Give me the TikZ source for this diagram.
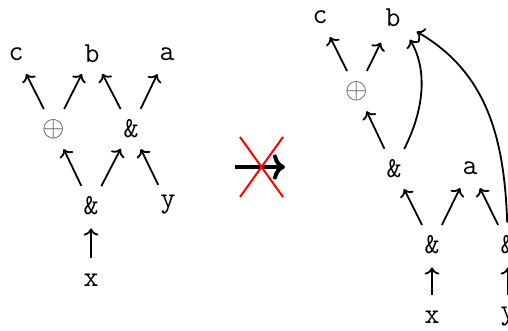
\documentclass[tikz,border=0pt]{standalone}
\usetikzlibrary{arrows.meta}
\begin{document}
\begin{tikzpicture}[x=0.5pt,y=0.5pt,
  lbl/.style={circle, inner sep=0pt, minimum size=22pt, font=\fontsize{14.5}{17}\selectfont\ttfamily},
  opl/.style={lbl, text=black!70},
  arr/.style={->, line width=0.9pt},
  bigarr/.style={->, line width=2pt},
  cross/.style={red, line width=1pt},
]
\useasboundingbox (0,0) rectangle (508,-331);
\clip (0,0) rectangle (508,-331);
% left diagram
\node[lbl] (Lc) at (16,-54) {c};
\node[lbl] (Lb) at (92,-54) {b};
\node[lbl] (La) at (167,-54) {a};
\node[opl] (Lo) at (54,-129) {$\oplus$};
\node[lbl] (Land1) at (131,-129) {\&};
\node[lbl] (Land2) at (91,-206) {\&};
\node[lbl] (Ly) at (168,-205) {y};
\node[lbl] (Lx) at (91,-280) {x};
\draw[arr] (Lo) -- (Lc);
\draw[arr] (Lo) -- (Lb);
\draw[arr] (Land1) -- (Lb);
\draw[arr] (Land1) -- (La);
\draw[arr] (Land2) -- (Lo);
\draw[arr] (Land2) -- (Land1);
\draw[arr] (Ly) -- (Land1);
\draw[arr] (Lx) -- (Land2);
% middle crossed arrow
\coordinate (m1) at (235,-167);
\coordinate (m2) at (285,-167);
\draw[bigarr] (m1) -- (m2);
\coordinate (r1) at (240,-137);
\coordinate (r2) at (283,-197);
\coordinate (r3) at (283,-137);
\coordinate (r4) at (240,-197);
\draw[cross] (r1) -- (r2);
\draw[cross] (r3) -- (r4);
% right diagram
\node[lbl] (Rc) at (320,-17) {c};
\node[lbl, minimum size=27pt] (Rb) at (393,-18) {b};
\node[opl] (Ro) at (357,-91) {$\oplus$};
\node[lbl] (Rand3) at (394,-169) {\&};
\node[lbl] (Ra) at (470,-168) {a};
\node[lbl] (Rand4) at (432,-245) {\&};
\node[lbl] (Rand5) at (508,-245) {\&};
\node[lbl] (Rx) at (432,-317) {x};
\node[lbl] (Ry) at (508,-317) {y};
\draw[arr] (Ro) -- (Rc);
\draw[arr] (Ro) -- (Rb);
\draw[arr] (Rand3) -- (Ro);
\draw[arr] (Rand3) .. controls (424,-110) and (428,-70) .. (Rb.-52);
\draw[arr] (Rand4) -- (Rand3);
\draw[arr] (Rand4) -- (Ra);
\draw[arr] (Rand5) -- (Ra);
\draw[arr] (Rand5) to[out=92, in=-30] (Rb);
\draw[arr] (Rx) -- (Rand4);
\draw[arr] (Ry) -- (Rand5);
\end{tikzpicture}
\end{document}
